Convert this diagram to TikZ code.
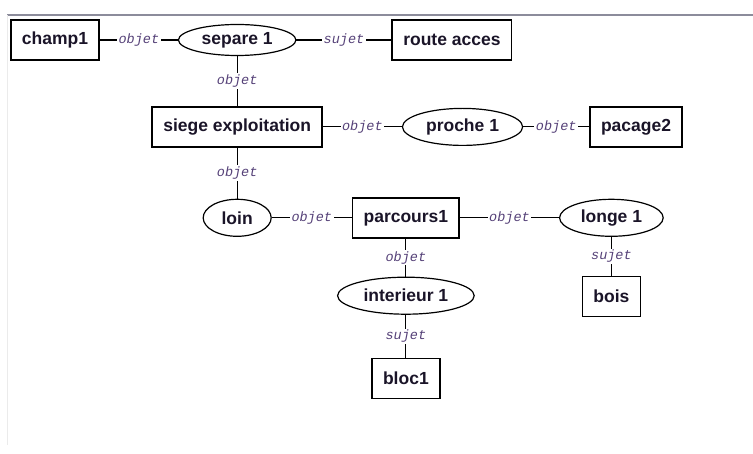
\documentclass[tikz,border=0pt]{standalone}
\usepackage{fontspec}
\setmainfont{Liberation Sans}
\newfontfamily\labelfont{Liberation Mono}
\usepackage{tikz}
\usetikzlibrary{shapes.geometric,positioning}

\definecolor{inkdark}{RGB}{26,20,40}
\definecolor{labink}{RGB}{85,65,120}
\definecolor{framegray}{RGB}{140,140,155}

\begin{document}
\begin{tikzpicture}[
    x=1pt, y=1pt,
    concept/.style={rectangle, draw=black, line width=1.6pt, minimum height=40pt, inner xsep=11pt, text=inkdark, font=\bfseries\fontsize{17.5}{17.5}\selectfont},
    relation/.style={ellipse, draw=black, line width=1.2pt, minimum height=37pt, inner xsep=6pt, inner ysep=2pt, text=inkdark, font=\bfseries\fontsize{17.5}{17.5}\selectfont},
    link/.style={line width=1.2pt},
    lab/.style={fill=white, inner sep=1.5pt, text=labink, font=\labelfont\itshape\fontsize{13.5}{13.5}\selectfont}
]
\useasboundingbox (0,0) rectangle (753,-454);
% window frame
\draw[framegray, line width=1.4pt] (7,-15) -- (753,-15);
\draw[black!8, line width=1pt] (7,-15) -- (7,-445);

\node[concept] (champ) at (55,-40) {champ1};
\node[relation, minimum height=31pt, right=78pt of champ] (separe) {separe 1};
\node[concept, right=95pt of separe] (route) {route acces};
\node[concept, below=50pt of separe] (siege) {siege exploitation};
\node[relation, right=79pt of siege] (proche) {proche 1};
\node[concept, right=66pt of proche] (pacage) {pacage2};
\node[relation, minimum width=68pt, below=51pt of siege] (loin) {loin};
\node[concept, right=80pt of loin] (parcours) {parcours1};
\node[relation, right=99pt of parcours] (longe) {longe 1};
\node[concept, below=39pt of longe] (bois) {bois};
\node[relation, below=38pt of parcours] (interieur) {interieur 1};
\node[concept, below=43pt of interieur] (bloc) {bloc1};

\draw[link] (champ) -- node[lab] {objet} (separe);
\draw[link] (separe) -- node[lab] {sujet} (route);
\draw[link] (separe) -- node[lab] {objet} (siege);
\draw[link] (siege) -- node[lab] {objet} (proche);
\draw[link] (proche) -- node[lab] {objet} (pacage);
\draw[link] (siege) -- node[lab] {objet} (loin);
\draw[link] (loin) -- node[lab] {objet} (parcours);
\draw[link] (parcours) -- node[lab] {objet} (longe);
\draw[link] (longe) -- node[lab] {sujet} (bois);
\draw[link] (parcours) -- node[lab] {objet} (interieur);
\draw[link] (interieur) -- node[lab] {sujet} (bloc);
\end{tikzpicture}
\end{document}
